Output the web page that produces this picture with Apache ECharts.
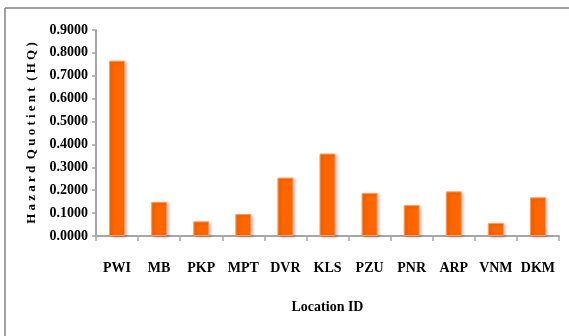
<!DOCTYPE html>
<html>
<head>
<meta charset="utf-8">
<script src="https://cdn.jsdelivr.net/npm/echarts@6/dist/echarts.min.js"></script>
<style>
  html, body { margin: 0; padding: 0; background: #fff; }
  #chart { width: 569px; height: 336px; }
</style>
</head>
<body>
<div id="chart"></div>
<script>
// Hazard quotient per sampling location
const locations = ['PWI', 'MB', 'PKP', 'MPT', 'DVR', 'KLS', 'PZU', 'PNR', 'ARP', 'VNM', 'DKM'];
const hqValues = [0.766, 0.149, 0.064, 0.096, 0.255, 0.360, 0.188, 0.135, 0.195, 0.057, 0.169];

const serif = '"Liberation Serif", "Times New Roman", serif';

const chart = echarts.init(document.getElementById('chart'), null, { renderer: 'canvas' });

chart.setOption({
  animation: false,
  backgroundColor: '#ffffff',
  grid: { left: 96, right: 10, top: 30, bottom: 100, containLabel: false },
  graphic: [
    // frame lines along the top and left edges
    { type: 'line', shape: { x1: 5, y1: 8, x2: 569, y2: 8 }, style: { stroke: '#a0a0a0', lineWidth: 2 } },
    { type: 'line', shape: { x1: 5, y1: 8, x2: 5, y2: 336 }, style: { stroke: '#808080', lineWidth: 1.5 } }
  ],
  xAxis: {
    type: 'category',
    data: locations,
    name: 'Location ID',
    nameLocation: 'middle',
    nameGap: 64,
    nameTextStyle: { fontFamily: serif, fontWeight: 'bold', fontSize: 14, color: '#000' },
    axisLine: { lineStyle: { color: '#a6a6a6', width: 2 } },
    axisTick: { show: true, alignWithLabel: false, length: 5, lineStyle: { color: '#a6a6a6', width: 1.5 } },
    axisLabel: { interval: 0, margin: 25, fontFamily: serif, fontWeight: 'bold', fontSize: 14, color: '#000' },
    splitLine: { show: false }
  },
  yAxis: {
    type: 'value',
    min: 0,
    max: 0.9,
    interval: 0.1,
    name: 'H a z a r d  Q u o t i e n t  ( H Q )',
    nameLocation: 'middle',
    nameGap: 58,
    nameRotate: 90,
    nameTextStyle: { fontFamily: serif, fontWeight: 'bold', fontSize: 13, color: '#000' },
    axisLine: { show: true, lineStyle: { color: '#a6a6a6', width: 2 } },
    axisTick: { show: true, length: 4, lineStyle: { color: '#a6a6a6', width: 1.5 } },
    axisLabel: {
      margin: 8,
      fontFamily: serif,
      fontWeight: 'bold',
      fontSize: 14,
      color: '#000',
      formatter: v => v.toFixed(4)
    },
    splitLine: { show: false }
  },
  series: [{
    type: 'bar',
    data: hqValues,
    barWidth: '38%',
    itemStyle: {
      color: '#ff6600',
      borderColor: '#ff9a5c',
      borderWidth: 1,
      shadowColor: 'rgba(0,0,0,0.22)',
      shadowBlur: 3,
      shadowOffsetX: 2,
      shadowOffsetY: 1
    }
  }]
});
</script>
</body>
</html>
